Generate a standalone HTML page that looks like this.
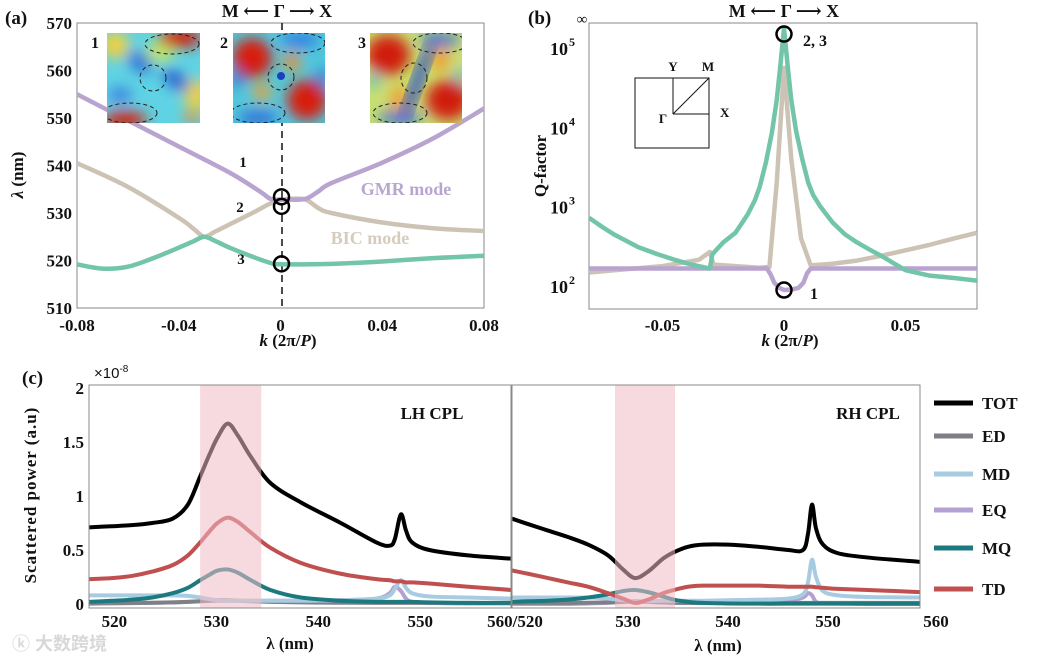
<!DOCTYPE html>
<html><head><meta charset="utf-8"><style>
html,body{margin:0;padding:0;background:#fff}
svg{display:block}
text{font-family:"Liberation Serif","DejaVu Serif",serif;font-weight:bold;fill:#111}
</style></head><body>
<svg id="fig" width="1039" height="663" viewBox="0 0 1039 663">
<defs>
<filter id="blur" x="-20%" y="-20%" width="140%" height="140%"><feGaussianBlur stdDeviation="7"/></filter>
<clipPath id="c1"><rect x="107" y="33" width="93" height="90"/></clipPath>
<clipPath id="c2"><rect x="233" y="33" width="92" height="90"/></clipPath>
<clipPath id="c3"><rect x="370" y="33" width="92" height="90"/></clipPath>
<clipPath id="clipA"><rect x="77" y="23" width="407" height="285"/></clipPath>
<clipPath id="clipB"><rect x="589" y="23" width="388" height="286"/></clipPath>
<clipPath id="clipL"><rect x="89" y="385" width="422" height="223"/></clipPath>
<clipPath id="clipR"><rect x="512" y="385" width="408" height="223"/></clipPath>
</defs>

<g>
<text x="5" y="24" font-size="19">(a)</text>
<text x="277" y="17" font-size="18" text-anchor="middle">M ⟵ Γ ⟶ X</text>
<rect x="77" y="23" width="407" height="285" fill="none" stroke="#888" stroke-width="1"/>
<line x1="282" y1="23" x2="282" y2="308" stroke="#111" stroke-width="1.5" stroke-dasharray="7,5"/>
<g id="axA"></g>
<g id="seriesA" clip-path="url(#clipA)"></g>
<g clip-path="url(#c1)">
<rect x="107" y="33" width="93" height="90" fill="#5fd3e4"/>
<g filter="url(#blur)">
<ellipse cx="115" cy="45" rx="14" ry="14" fill="#f0d040"/>
<ellipse cx="160" cy="52" rx="14" ry="10" fill="#c8e860"/>
<ellipse cx="196" cy="95" rx="12" ry="16" fill="#f0d040"/>
<ellipse cx="140" cy="62" rx="14" ry="9" fill="#2c70d8" transform="rotate(35 140 62)"/>
<ellipse cx="176" cy="80" rx="16" ry="8" fill="#2c60d0" transform="rotate(35 176 80)"/>
<ellipse cx="120" cy="95" rx="12" ry="8" fill="#3a80e0"/>
<ellipse cx="180" cy="38" rx="22" ry="10" fill="#d02010"/>
<ellipse cx="125" cy="120" rx="22" ry="9" fill="#d02010"/>
<ellipse cx="192" cy="118" rx="8" ry="6" fill="#f08030"/>
</g>
<ellipse cx="172" cy="44" rx="27" ry="10" fill="none" stroke="#222" stroke-dasharray="4,3"/>
<circle cx="153" cy="78" r="13" fill="none" stroke="#222" stroke-dasharray="4,3"/>
<ellipse cx="130" cy="113" rx="27" ry="10" fill="none" stroke="#222" stroke-dasharray="4,3"/>
</g>
<g clip-path="url(#c2)">
<rect x="233" y="33" width="92" height="90" fill="#50c8dc"/>
<g filter="url(#blur)">
<ellipse cx="252" cy="58" rx="20" ry="20" fill="#d81a10"/>
<ellipse cx="307" cy="100" rx="20" ry="20" fill="#d81a10"/>
<ellipse cx="292" cy="62" rx="9" ry="9" fill="#f08a30"/>
<ellipse cx="262" cy="92" rx="9" ry="9" fill="#f0a030"/>
<ellipse cx="300" cy="40" rx="20" ry="8" fill="#3080e0"/>
<ellipse cx="258" cy="118" rx="20" ry="8" fill="#3070d8"/>
<ellipse cx="237" cy="78" rx="5" ry="10" fill="#2a60d0"/>
<ellipse cx="322" cy="78" rx="5" ry="10" fill="#2a60d0"/>
</g>
<circle cx="281" cy="76" r="4" fill="#1a40c0"/>
<ellipse cx="298" cy="43" rx="27" ry="10" fill="none" stroke="#222" stroke-dasharray="4,3"/>
<circle cx="281" cy="77" r="13" fill="none" stroke="#222" stroke-dasharray="4,3"/>
<ellipse cx="258" cy="113" rx="27" ry="10" fill="none" stroke="#222" stroke-dasharray="4,3"/>
</g>
<g clip-path="url(#c3)">
<rect x="370" y="33" width="92" height="90" fill="#c8e070"/>
<g filter="url(#blur)">
<ellipse cx="388" cy="55" rx="22" ry="20" fill="#d01a10"/>
<ellipse cx="448" cy="100" rx="22" ry="20" fill="#d01a10"/>
<ellipse cx="400" cy="100" rx="10" ry="14" fill="#f0a030"/>
<ellipse cx="440" cy="58" rx="10" ry="14" fill="#f0a030"/>
<ellipse cx="440" cy="40" rx="20" ry="7" fill="#3070d8"/>
<ellipse cx="400" cy="118" rx="22" ry="7" fill="#3070d8"/>
<ellipse cx="374" cy="80" rx="5" ry="8" fill="#40b0e0"/>
<ellipse cx="460" cy="76" rx="5" ry="8" fill="#40b0e0"/>
</g>
<ellipse cx="418" cy="80" rx="6" ry="42" fill="#2a50c8" filter="url(#blur)" transform="rotate(20 418 80)"/>
<ellipse cx="440" cy="43" rx="27" ry="10" fill="none" stroke="#222" stroke-dasharray="4,3"/>
<ellipse cx="414" cy="78" rx="13" ry="15" fill="none" stroke="#222" stroke-dasharray="4,3"/>
<ellipse cx="400" cy="113" rx="27" ry="10" fill="none" stroke="#222" stroke-dasharray="4,3"/>
</g>
<text x="95" y="48" font-size="16" text-anchor="middle">1</text>
<text x="224" y="48" font-size="16" text-anchor="middle">2</text>
<text x="362" y="48" font-size="16" text-anchor="middle">3</text>
<text x="243" y="167" font-size="15" text-anchor="middle">1</text>
<text x="240" y="212" font-size="15" text-anchor="middle">2</text>
<text x="241" y="264" font-size="15" text-anchor="middle">3</text>
<text x="406" y="195" font-size="18" text-anchor="middle" style="fill:#b9a6d0">GMR mode</text>
<text x="370" y="244" font-size="18" text-anchor="middle" style="fill:#d6ccbe">BIC mode</text>
<text transform="translate(23,175) rotate(-90)" font-size="17" text-anchor="middle"><tspan font-style="italic">λ</tspan> (nm)</text>
<text x="288" y="346" font-size="17" text-anchor="middle"><tspan font-style="italic">k</tspan> (2π/<tspan font-style="italic">P</tspan>)</text>
</g>

<g>
<text x="528" y="24" font-size="19">(b)</text>
<text x="784" y="17" font-size="18" text-anchor="middle">M ⟵ Γ ⟶ X</text>
<rect x="589" y="23" width="388" height="286" fill="none" stroke="#888" stroke-width="1"/>
<text x="582" y="24" font-size="15" text-anchor="middle" style="font-weight:normal">∞</text>
<g id="axB"></g>
<g id="seriesB" clip-path="url(#clipB)"></g>
<g>
<rect x="635" y="78" width="74" height="70" fill="none" stroke="#111" stroke-width="1"/>
<line x1="673" y1="114" x2="673" y2="78" stroke="#111" stroke-width="1"/>
<line x1="673" y1="114" x2="709" y2="114" stroke="#111" stroke-width="1"/>
<line x1="673" y1="114" x2="709" y2="78" stroke="#111" stroke-width="1"/>
<text x="673" y="71" font-size="13" text-anchor="middle">Y</text>
<text x="708" y="71" font-size="13" text-anchor="middle">M</text>
<text x="720" y="117" font-size="13">X</text>
<text x="663" y="123" font-size="13" text-anchor="middle">Γ</text>
</g>
<text x="803" y="46" font-size="16">2, 3</text>
<text x="810" y="299" font-size="16">1</text>
<text transform="translate(546,166) rotate(-90)" font-size="17" text-anchor="middle">Q-factor</text>
<text x="790" y="346" font-size="17" text-anchor="middle"><tspan font-style="italic">k</tspan> (2π/<tspan font-style="italic">P</tspan>)</text>
</g>

<g>
<text x="22" y="384" font-size="19">(c)</text>
<text x="94" y="378" font-size="15" style="font-family:'Liberation Sans',sans-serif;font-weight:normal">×10<tspan dy="-6" font-size="10">-8</tspan></text>
<g id="seriesL" clip-path="url(#clipL)"></g>
<g id="seriesR" clip-path="url(#clipR)"></g>
<rect x="89" y="385" width="422" height="223" fill="none" stroke="#888" stroke-width="1"/>
<rect x="512" y="385" width="408" height="223" fill="none" stroke="#888" stroke-width="1"/>
<g id="axC"></g>
<text x="432" y="419" font-size="17" text-anchor="middle">LH CPL</text>
<text x="868" y="419" font-size="17" text-anchor="middle">RH CPL</text>
<text transform="translate(36,495) rotate(-90)" font-size="17" text-anchor="middle" style="letter-spacing:1px">Scattered power (a.u)</text>
<text x="290" y="649" font-size="17" text-anchor="middle">λ (nm)</text>
<text x="718" y="651" font-size="17" text-anchor="middle">λ (nm)</text>
<text x="515" y="627" font-size="17" text-anchor="middle">560/520</text>
<g id="legendC"></g>
<text x="12" y="650" font-size="18" style="fill:#d8d8d8;font-family:'Liberation Sans','Noto Sans CJK SC',sans-serif">ⓚ 大数跨境</text>
</g>
</svg>
<script>
// ---------- Panel A data ----------
const aGmrK = [-0.08,-0.06,-0.04,-0.02,-0.008,-0.004,0,0.004,0.01,0.015,0.02,0.04,0.06,0.08];
const aGmrL = [555,549.5,544,538.5,534.5,533,532.8,532.8,533,534.6,536.3,540.6,545.7,552];
const aBicK = [-0.08,-0.06,-0.04,-0.034,-0.03,-0.026,-0.02,-0.01,-0.004,0,0.005,0.01,0.015,0.02,0.04,0.06,0.08];
const aBicL = [540.5,535.5,529,526.6,525,526,527.6,530.3,532,532.7,533,532.8,531,530,528,526.8,526.2];
const aLowK = [-0.08,-0.07,-0.06,-0.05,-0.04,-0.034,-0.03,-0.026,-0.02,-0.01,-0.004,0,0.02,0.04,0.06,0.08];
const aLowL = [519.2,518.3,518.7,520.5,522.7,524.1,525,524.2,522.7,520.6,519.5,519.2,519.3,519.8,520.5,521];
const aMarkK = [0,0,0];
const aMarkL = [533.4,531.4,519.3];
const aYTicks = [510,520,530,540,550,560,570];
const aXTicks = [-0.08,-0.04,0,0.04,0.08];
const aXTickLabels = ["-0.08","-0.04","0","0.04","0.08"];
// ---------- Panel B data ----------
const bTealK = [-0.0802,-0.075,-0.07,-0.065,-0.06,-0.052,-0.045,-0.038,-0.0305,-0.0295,-0.025,-0.02,-0.015,-0.012,-0.01,-0.0075,-0.005,-0.003,-0.0015,0,0.0015,0.003,0.005,0.0075,0.01,0.012,0.015,0.02,0.025,0.03,0.035,0.04,0.05,0.06,0.07,0.0794];
const bTealQ = [724,560,447,372,309,251,214,186,166,251,355,468,794,1200,1778,3548,8511,22000,60000,177828,60000,22000,8913,3981,1995,1400,1000,631,450,355,290,240,158,135,126,117];
const bGmrK = [-0.0802,-0.007,-0.0055,-0.004,-0.002,0,0.003,0.006,0.008,0.0095,0.011,0.0794];
const bGmrQ = [166,166,140,110,95,89,90,95,110,145,166,166];
const bBicK = [-0.0802,-0.05,-0.035,-0.0305,-0.029,-0.02,-0.01,-0.006,-0.003,0,0.003,0.007,0.011,0.02,0.03,0.04,0.05,0.06,0.07,0.0794];
const bBicQ = [148,178,214,269,186,178,170,174,1995,56234,3981,398,182,191,209,240,282,331,398,468];
const bMarkK = [0,0];
const bMarkQ = [150000,89];
const bYTicks = [2,3,4,5];
const bXTicks = [-0.05,0,0.05];
const bXTickLabels = ["-0.05","0","0.05"];
// ---------- Panel C data ----------
const lhWl = [517.8,520,522,524,526,527.5,528.7,529.6,530.4,531.4,532.4,533.7,535.6,538.6,542.5,546,547.3,547.8,548.4,548.9,549.5,551.2,555,559.2];
const lhTOT = [0.71,0.72,0.73,0.75,0.79,0.92,1.18,1.38,1.54,1.67,1.56,1.36,1.12,0.94,0.75,0.57,0.54,0.6,0.83,0.68,0.57,0.5,0.45,0.42];
const lhTD  = [0.23,0.24,0.26,0.3,0.36,0.45,0.57,0.67,0.75,0.8,0.76,0.66,0.52,0.38,0.28,0.23,0.22,0.21,0.21,0.2,0.2,0.19,0.16,0.13];
const lhMQ  = [0.02,0.03,0.04,0.06,0.1,0.15,0.22,0.27,0.31,0.32,0.29,0.22,0.13,0.06,0.03,0.02,0.02,0.02,0.02,0.02,0.02,0.015,0.01,0.01];
const lhMD  = [0.08,0.08,0.08,0.08,0.08,0.075,0.06,0.045,0.035,0.03,0.03,0.03,0.03,0.03,0.035,0.05,0.08,0.14,0.22,0.15,0.1,0.07,0.06,0.05];
const lhEQ  = [0,0.005,0.008,0.01,0.015,0.02,0.025,0.03,0.03,0.03,0.03,0.03,0.03,0.03,0.035,0.05,0.1,0.16,0.12,0.05,0.02,0.01,0.005,0.005];
const lhED  = [0.01,0.01,0.01,0.012,0.015,0.02,0.025,0.03,0.035,0.035,0.03,0.025,0.02,0.015,0.012,0.01,0.01,0.01,0.01,0.01,0.01,0.01,0.01,0.01];
const rhWl = [518.4,520,522,524,526,528,529.5,530.7,532,533.5,534.6,536,537.5,540,543,546,547.5,548,548.4,548.8,549.5,551,554,559.2];
const rhTOT = [0.79,0.74,0.68,0.62,0.55,0.45,0.32,0.24,0.3,0.42,0.48,0.53,0.55,0.55,0.53,0.5,0.5,0.65,0.92,0.7,0.55,0.47,0.43,0.39];
const rhTD  = [0.31,0.28,0.24,0.2,0.16,0.1,0.05,0.01,0.04,0.1,0.13,0.16,0.17,0.17,0.17,0.16,0.16,0.16,0.16,0.155,0.15,0.14,0.13,0.11];
const rhMQ  = [0.02,0.025,0.03,0.04,0.06,0.09,0.12,0.13,0.11,0.07,0.04,0.02,0.01,0.005,0.003,0.003,0.003,0.003,0.003,0.003,0.003,0.003,0.003,0.003];
const rhMD  = [0.06,0.06,0.06,0.06,0.06,0.05,0.035,0.025,0.025,0.03,0.03,0.03,0.03,0.035,0.04,0.05,0.09,0.2,0.41,0.25,0.12,0.08,0.065,0.06];
const rhEQ  = [0,0,0,0,0.005,0.01,0.02,0.025,0.02,0.015,0.01,0.01,0.01,0.01,0.015,0.03,0.06,0.1,0.08,0.02,0.005,0.005,0,0];
const rhED  = [0.01,0.01,0.01,0.01,0.012,0.015,0.02,0.025,0.02,0.015,0.012,0.01,0.01,0.01,0.01,0.01,0.01,0.01,0.01,0.01,0.01,0.01,0.01,0.01];
const cBand = [528.7,534.7];
const cYTicks = [0,0.5,1,1.5,2];
const cYTickLabels = ["0","0.5","1","1.5","2"];
const cLhTicks = [520,530,540,550];
const cRhTicks = [530,540,550,560];
const legendNames = ["TOT","ED","MD","EQ","MQ","TD"];

const NS = "http://www.w3.org/2000/svg";
function el(tag, attrs, parent){ const e=document.createElementNS(NS,tag); for(const k in attrs) e.setAttribute(k,attrs[k]); parent.appendChild(e); return e; }
function smooth(pts){
  let d = "M"+pts[0][0].toFixed(2)+","+pts[0][1].toFixed(2);
  for(let i=0;i<pts.length-1;i++){
    const p0=pts[i-1]||pts[i], p1=pts[i], p2=pts[i+1], p3=pts[i+2]||pts[i+1];
    const c1=[p1[0]+(p2[0]-p0[0])/6, p1[1]+(p2[1]-p0[1])/6];
    const c2=[p2[0]-(p3[0]-p1[0])/6, p2[1]-(p3[1]-p1[1])/6];
    d += " C"+c1[0].toFixed(2)+","+c1[1].toFixed(2)+" "+c2[0].toFixed(2)+","+c2[1].toFixed(2)+" "+p2[0].toFixed(2)+","+p2[1].toFixed(2);
  }
  return d;
}
function poly(pts){ return "M"+pts.map(p=>p[0].toFixed(2)+","+p[1].toFixed(2)).join(" L"); }
const COL = {TOT:"#000000",ED:"#7f7f87",MD:"#a7cbe1",EQ:"#b4a1d3",MQ:"#1c7a7f",TD:"#c0504f"};

// ---------- Panel A ----------
const axA = (k)=>77+(k+0.08)/0.16*407;
const ayA = (l)=>308-(l-510)/60*285;
const gA=document.getElementById("axA"), sA=document.getElementById("seriesA");
aYTicks.forEach(v=>{
  const t=el("text",{x:72,y:ayA(v)+6,"font-size":17,"text-anchor":"end"},gA); t.textContent=v;
  
  
});
aXTicks.forEach((v,i)=>{
  const t=el("text",{x:axA(v),y:331,"font-size":17,"text-anchor":"middle"},gA); t.textContent=aXTickLabels[i];
  
  
});
function lineA(ks,ls,col,name){
  const p=el("path",{d:smooth(ks.map((k,i)=>[axA(k),ayA(ls[i])])),fill:"none",stroke:col,"stroke-width":4.5,"stroke-linejoin":"round","stroke-linecap":"round"},sA);
  
  
}
lineA(aBicK,aBicL,"#cdc3b5","bic-mode-band");
lineA(aLowK,aLowL,"#72c5a8","lower-mode-band");
lineA(aGmrK,aGmrL,"#b9a3cf","gmr-mode-band");
aMarkK.forEach((k,i)=>{
  const c=el("circle",{cx:axA(k)+1,cy:ayA(aMarkL[i]),r:7.5,fill:"none",stroke:"#000","stroke-width":2.5},sA);
  
  
});

// ---------- Panel B ----------
const axB = (k)=>784+k*2430;
const ayB = (q)=>286-(Math.log10(q)-2)*79.33;
const gB=document.getElementById("axB"), sB=document.getElementById("seriesB");
bYTicks.forEach(v=>{
  const t=el("text",{x:568,y:ayB(Math.pow(10,v))+7,"font-size":18,"text-anchor":"end"},gB); t.textContent="10";
  
  
  const s=el("text",{x:569,y:ayB(Math.pow(10,v))-2,"font-size":12},gB); s.textContent=v;
  
  
});
bXTicks.forEach((v,i)=>{
  const t=el("text",{x:axB(v),y:331,"font-size":17,"text-anchor":"middle"},gB); t.textContent=bXTickLabels[i];
  
  
});
function lineB(ks,qs,col,name){
  const p=el("path",{d:poly(ks.map((k,i)=>[axB(k),ayB(qs[i])])),fill:"none",stroke:col,"stroke-width":4.5,"stroke-linejoin":"round"},sB);
  
  
}
lineB(bBicK,bBicQ,"#cdc3b5","bic-q-curve");
lineB(bGmrK,bGmrQ,"#b9a3cf","gmr-q-curve");
lineB(bTealK,bTealQ,"#72c5a8","lower-q-curve");
bMarkK.forEach((k,i)=>{
  const c=el("circle",{cx:axB(k),cy:ayB(bMarkQ[i]),r:7.5,fill:"none",stroke:"#000","stroke-width":2.5},sB);
  
  
});

// ---------- Panel C ----------
const ayC = (v)=>604-v*108;
const axL = (w)=>89+(w-517.8)/(559.2-517.8)*422;
const axR = (w)=>512+(w-518.4)/(559.2-518.4)*408;
const gC=document.getElementById("axC");
cYTicks.forEach((v,i)=>{
  const t=el("text",{x:84,y:ayC(v)+6,"font-size":17,"text-anchor":"end"},gC); t.textContent=cYTickLabels[i];
  
  
});
cLhTicks.forEach(v=>{
  const t=el("text",{x:axL(v)+3,y:627,"font-size":17,"text-anchor":"middle"},gC); t.textContent=v;
  
  
});
cRhTicks.forEach(v=>{
  const t=el("text",{x:axR(v)+(v===560?8:0),y:627,"font-size":17,"text-anchor":"middle"},gC); t.textContent=v;
  
  
});
function panelC(gid, ax, wl, series, prefix){
  const g=document.getElementById(gid);
  series.forEach(([name,vals])=>{
    const p=el("path",{d:smooth(wl.map((w,i)=>[ax(w),ayC(vals[i])])),fill:"none",stroke:COL[name],"stroke-width":4,"stroke-linejoin":"round"},g);
    
    
  });
  const b=el("rect",{x:ax(cBand[0]),y:385,width:ax(cBand[1])-ax(cBand[0]),height:223,fill:"rgba(241,188,196,0.55)"},g);
  
  
}
panelC("seriesL",axL,lhWl,[["EQ",lhEQ],["ED",lhED],["MD",lhMD],["MQ",lhMQ],["TD",lhTD],["TOT",lhTOT]],"lh");
panelC("seriesR",axR,rhWl,[["EQ",rhEQ],["ED",rhED],["MD",rhMD],["MQ",rhMQ],["TD",rhTD],["TOT",rhTOT]],"rh");
const lg=document.getElementById("legendC");
const legY=[403,436,474,510,548,589];
legendNames.forEach((n,i)=>{
  const l=el("line",{x1:934,y1:legY[i],x2:973,y2:legY[i],stroke:COL[n],"stroke-width":5},lg);
  
  
  const t=el("text",{x:982,y:legY[i]+6,"font-size":17},lg); t.textContent=n;
  
  
});
</script>
</body></html>
